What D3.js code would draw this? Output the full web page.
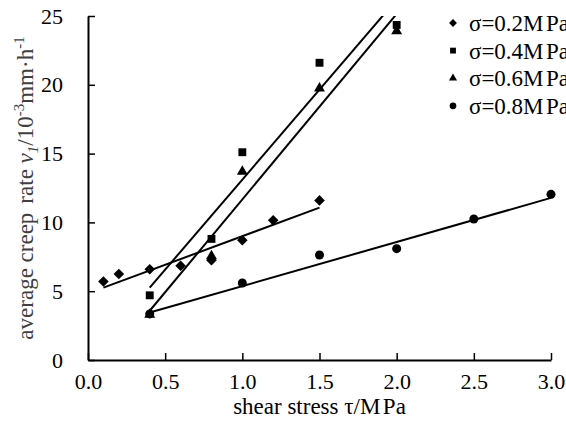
<!DOCTYPE html>
<html>
<head>
<meta charset="utf-8">
<script src="https://cdn.jsdelivr.net/npm/d3@7"></script>
<style>
  body { margin: 0; background: #fff; }
  svg { font-family: "Liberation Serif", "Times New Roman", serif; }
</style>
</head>
<body>
<svg id="chart" width="566" height="432"></svg>
<script>
// shear stress (MPa) and average creep rate for each normal stress
const x02 = [0.1, 0.2, 0.4, 0.6, 0.8, 1.0, 1.2, 1.5];
const y02 = [5.7, 6.25, 6.6, 6.85, 7.25, 8.7, 10.15, 11.6];
const x04 = [0.4, 0.8, 1.0, 1.5, 2.0];
const y04 = [4.7, 8.8, 15.1, 21.6, 24.35];
const x06 = [0.4, 0.8, 1.0, 1.5, 2.0];
const y06 = [3.3, 7.55, 13.7, 19.75, 23.9];
const x08 = [0.4, 1.0, 1.5, 2.0, 2.5, 3.0];
const y08 = [3.35, 5.6, 7.63, 8.09, 10.25, 12.04];

// fitted lines, end points
const fit02 = [[0.1, 5.26], [1.5, 11.07]];
const fit04 = [[0.4, 5.26], [2.1, 27.5]];
const fit06 = [[0.4, 3.58], [2.1, 26.5]];
const fit08 = [[0.4, 3.45], [3.0, 11.78]];

const legendLabels = ['σ=0.2', 'σ=0.4', 'σ=0.6', 'σ=0.8'];
const xTicks = [0, 0.5, 1.0, 1.5, 2.0, 2.5, 3.0];
const yTicks = [0, 5, 10, 15, 20, 25];

// diamond = square turned 45 degrees
const series = [
  { x: x02, y: y02, fit: fit02, sym: d3.symbolSquare, size: 56, rot: 45 },
  { x: x04, y: y04, fit: fit04, sym: d3.symbolSquare, size: 62, rot: 0 },
  { x: x06, y: y06, fit: fit06, sym: d3.symbolTriangle, size: 52, rot: 0 },
  { x: x08, y: y08, fit: fit08, sym: d3.symbolCircle, size: 64, rot: 0 },
];

const svg = d3.select('#chart');
const margin = { left: 88, right: 551, top: 16, bottom: 360 };

const xScale = d3.scaleLinear().domain([0, 3]).range([margin.left, margin.right]);
const yScale = d3.scaleLinear().domain([0, 25]).range([margin.bottom, margin.top]);

svg.append('defs').append('clipPath').attr('id', 'plot')
  .append('rect')
  .attr('x', margin.left).attr('y', margin.top)
  .attr('width', margin.right - margin.left + 20).attr('height', margin.bottom - margin.top);

// axes
const xAxis = d3.axisBottom(xScale)
  .tickValues(xTicks)
  .tickSizeInner(-7)
  .tickSizeOuter(0)
  .tickPadding(13)
  .tickFormat(d3.format('.1f'));

const yAxis = d3.axisLeft(yScale)
  .tickValues(yTicks)
  .tickSizeInner(-7)
  .tickSizeOuter(0)
  .tickPadding(24)
  .tickFormat(d3.format('d'));

const xG = svg.append('g').attr('transform', `translate(0,${margin.bottom})`).call(xAxis);
const yG = svg.append('g').attr('transform', `translate(${margin.left},0)`).call(yAxis);

[xG, yG].forEach((g) => {
  g.attr('font-family', null).attr('font-size', null);
  g.select('.domain').attr('stroke', '#000').attr('stroke-width', 2);
  g.selectAll('.tick line').attr('stroke', '#000').attr('stroke-width', 1.5);
  g.selectAll('.tick text').attr('fill', '#000').style('font-size', '22px');
});
xG.selectAll('.tick text').attr('dy', '0.71em');
yG.selectAll('.tick text').attr('x', -25);

// axis titles
const xTitle = svg.append('text')
  .attr('x', (margin.left + margin.right) / 2)
  .attr('y', 414)
  .attr('text-anchor', 'middle')
  .style('font-size', '23px');
xTitle.append('tspan').text('shear stress τ/M');
xTitle.append('tspan').attr('dx', 2.5).text('Pa');

const yTitle = svg.append('text')
  .attr('transform', `translate(33,${(margin.top + margin.bottom) / 2}) rotate(-90)`)
  .attr('text-anchor', 'middle')
  .style('font-size', '23px')
  .attr('fill', '#404040');
yTitle.append('tspan').text('average creep');
yTitle.append('tspan').attr('dx', 9).text('rate ');
yTitle.append('tspan').style('font-style', 'italic').text('v');
yTitle.append('tspan').style('font-style', 'italic').style('font-size', '15px').attr('dy', 5).text('1');
yTitle.append('tspan').attr('dy', -5).text('/10');
yTitle.append('tspan').style('font-size', '15px').attr('dy', -9).text('-3');
yTitle.append('tspan').attr('dy', 9).text('mm·h');
yTitle.append('tspan').style('font-size', '15px').attr('dy', -9).text('-1');

// fitted lines
const line = d3.line().x((d) => xScale(d[0])).y((d) => yScale(d[1]));
const marks = svg.append('g').attr('clip-path', 'url(#plot)');

marks.selectAll('.fit')
  .data(series)
  .join('path')
  .attr('class', 'fit')
  .attr('fill', 'none')
  .attr('stroke', '#000')
  .attr('stroke-width', 2)
  .attr('d', (d) => line(d.fit));

// points
series.forEach((s) => {
  svg.append('g').selectAll('path')
    .data(s.x.map((v, i) => [v, s.y[i]]))
    .join('path')
    .attr('transform', (d) => `translate(${xScale(d[0])},${yScale(d[1])}) rotate(${s.rot})`)
    .attr('d', d3.symbol().type(s.sym).size(s.size))
    .attr('fill', '#000');
});

// legend
const legend = svg.append('g').attr('transform', 'translate(453,23)');
legendLabels.forEach((label, i) => {
  const row = legend.append('g').attr('transform', `translate(0,${i * 27.6})`);
  row.append('path')
    .attr('transform', `rotate(${series[i].rot})`)
    .attr('d', d3.symbol().type(series[i].sym).size(series[i].size * 0.55))
    .attr('fill', '#000');
  const t = row.append('text')
    .attr('x', 16)
    .attr('y', 8)
    .style('font-size', '23px');
  t.append('tspan').text(`${label}M`);
  t.append('tspan').attr('dx', 2.5).text('Pa');
});
</script>
</body>
</html>
